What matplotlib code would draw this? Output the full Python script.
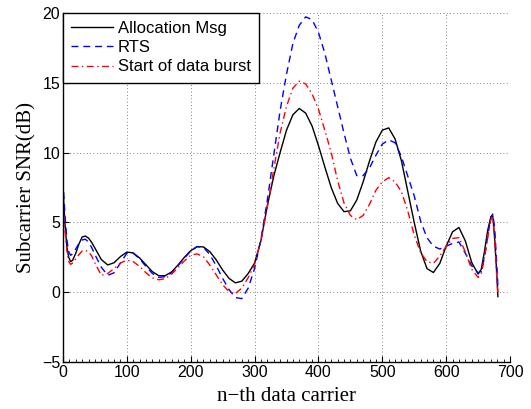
import matplotlib
matplotlib.use('Agg')
import matplotlib.pyplot as plt
from matplotlib.ticker import MultipleLocator

# carrier index samples (denser near the edges where the curves turn fast)
carrier = [0, 3, 6, 9, 12, 15, 20, 25, 30, 35, 40, 45, 50,
           60, 70, 80, 90, 100, 110, 120, 130, 140, 150,
           160, 170, 180, 190, 200, 210, 220, 230, 240, 250,
           260, 270, 280, 290, 300, 310, 320, 330, 340, 350,
           360, 370, 380, 390, 400, 410, 420, 430, 440, 450,
           460, 470, 480, 490, 500, 510, 520, 530, 540, 550,
           560, 570, 580, 590, 600, 610, 620, 630, 640, 650,
           655, 660, 665, 670, 673, 676, 679, 681]

snr_alloc = [7.4, 5.0, 3.3, 2.5, 2.2, 2.29, 2.79, 3.46, 3.96, 4.03, 3.88, 3.57, 3.17,
             2.35, 1.96, 2.12, 2.56, 2.88, 2.82, 2.46, 1.97, 1.48, 1.19,
             1.19, 1.46, 1.95, 2.5, 2.98, 3.27, 3.25, 2.91, 2.32, 1.6,
             1.0, 0.68, 0.8, 1.35, 2.1, 3.7, 6.2, 8.3, 10.0, 11.6,
             12.7, 13.15, 12.82, 11.9, 10.5, 8.97, 7.5, 6.37, 5.77, 5.83,
             6.6, 7.9, 9.4, 10.75, 11.6, 11.76, 10.97, 9.4, 7.2, 5.0,
             2.96, 1.7, 1.42, 2.07, 3.3, 4.33, 4.64, 3.68, 2.14, 1.31,
             1.66, 2.94, 4.43, 5.4, 5.48, 3.8, 1.5, -0.3]

snr_rts = [8.0, 5.6, 3.8, 2.9, 2.65, 2.75, 3.1, 3.5, 3.75, 3.8, 3.6, 3.2, 2.7,
           1.8, 1.22, 1.4, 2.1, 2.8, 2.8, 2.4, 1.85, 1.35, 1.07,
           1.12, 1.4, 1.9, 2.45, 2.95, 3.27, 3.22, 2.7, 1.9, 1.0,
           0.2, -0.37, -0.45, 0.3, 1.7, 3.8, 6.6, 9.8, 13.0, 15.6,
           17.8, 19.1, 19.7, 19.5, 18.6, 17.1, 15.2, 13.3, 11.4, 9.6,
           8.35, 8.35, 8.9, 9.8, 10.6, 10.9, 10.7, 9.7, 8.3, 6.9,
           5.1, 3.9, 3.3, 3.1, 3.3, 3.5, 3.6, 2.8, 1.9, 1.4,
           1.5, 2.5, 4.0, 5.4, 5.6, 4.6, 2.2, 0.5]

snr_burst = [6.6, 4.5, 3.0, 2.2, 2.0, 2.1, 2.4, 2.7, 2.95, 3.0, 2.9, 2.6, 2.1,
             1.22, 1.35, 1.7, 2.1, 2.3, 2.2, 1.85, 1.4, 1.03, 0.9,
             0.98, 1.3, 1.75, 2.25, 2.65, 2.75, 2.55, 1.95, 1.25, 0.55,
             0.05, -0.08, 0.3, 1.05, 2.0, 3.7, 6.1, 8.8, 11.4, 13.3,
             14.6, 15.1, 14.9, 14.2, 13.1, 11.6, 10.0, 8.0, 6.4, 5.5,
             5.2, 5.5, 6.3, 7.3, 7.9, 8.2, 7.9, 7.2, 5.8, 4.1,
             2.85, 2.2, 2.07, 2.6, 3.3, 3.85, 3.92, 2.9, 1.65, 1.07,
             1.3, 2.5, 3.9, 5.2, 5.35, 3.8, 1.3, 0.0]

labels = ['Allocation Msg', 'RTS', 'Start of data burst']

fig = plt.figure(figsize=(5.31, 4.09), dpi=100)
ax = fig.add_axes([0.1186, 0.1142, 0.8419, 0.8548])

ax.plot(carrier, snr_alloc, color='k', linestyle='-', linewidth=1.0, label=labels[0])
ax.plot(carrier, snr_rts, color='b', linestyle=(0, (5, 3.5)), linewidth=1.0, label=labels[1])
ax.plot(carrier, snr_burst, color='r', linestyle=(0, (5, 2.5, 1, 2.5)), linewidth=1.0, label=labels[2])

ax.set_xlim(0, 700)
ax.set_ylim(-5, 20)
ax.xaxis.set_major_locator(MultipleLocator(100))
ax.xaxis.set_minor_locator(MultipleLocator(10))
ax.yaxis.set_major_locator(MultipleLocator(5))

ax.grid(True, which='major', linestyle=(0, (1, 3)), color='0.35', linewidth=0.6)
ax.spines['top'].set_visible(False)
ax.spines['right'].set_visible(False)
ax.spines['left'].set_linewidth(1.0)
ax.spines['bottom'].set_linewidth(1.0)

ax.tick_params(which='major', direction='in', length=4, width=0.8,
               labelsize=11.5, pad=2)
ax.tick_params(which='minor', direction='in', length=2, width=0.6)
ax.tick_params(axis='y', which='minor', length=0)
for lab in ax.get_xticklabels() + ax.get_yticklabels():
    lab.set_family('Liberation Sans')

ax.set_xlabel('n\u2212th data carrier', family='Liberation Serif', fontsize=15, labelpad=5)
ax.set_ylabel('Subcarrier SNR(dB)', family='Liberation Serif', fontsize=15, labelpad=4)

leg = ax.legend(loc='upper left', bbox_to_anchor=(0, 1), borderaxespad=0,
                prop={'family': 'Liberation Sans', 'size': 12},
                fancybox=False, framealpha=1, edgecolor='k',
                handlelength=2.5, handletextpad=0.3, labelspacing=0.25,
                borderpad=0.5)
leg.get_frame().set_linewidth(1.0)

fig.savefig('out.png', dpi=100, facecolor='white')
